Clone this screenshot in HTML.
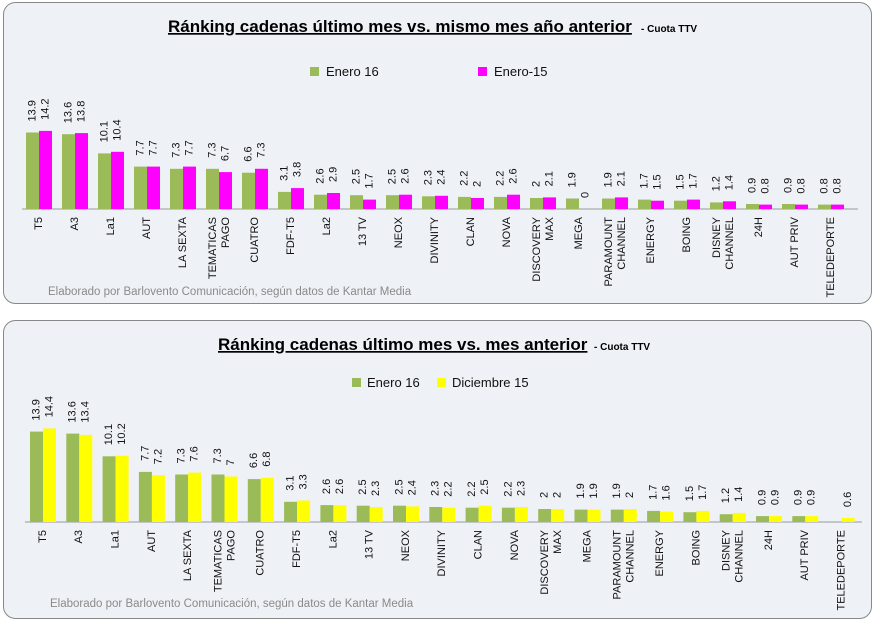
<!DOCTYPE html>
<html><head><meta charset="utf-8"><style>
body{margin:0;background:#fff;width:876px;height:623px;overflow:hidden}
svg{display:block;font-family:"Liberation Sans",sans-serif}
.v{font-size:11px;fill:#111}
.c{font-size:11px;fill:#111}
.t{font-size:17px;font-weight:bold;fill:#000;text-decoration:underline}
.f{font-size:11.5px;fill:#8a8a8a}
.l{font-size:13px;fill:#111}
</style></head><body>
<svg width="876" height="623" viewBox="0 0 876 623">
<rect x="3.5" y="2.5" width="868" height="301" rx="12" fill="#eef1f6" stroke="#888"/>
<rect x="3.5" y="320.5" width="868" height="298" rx="12" fill="#eef1f6" stroke="#888"/>

<text x="168" y="32" class="t">Ránking cadenas último mes vs. mismo mes año anterior</text>
<text x="641" y="32" style="font-size:10px;font-weight:bold">- Cuota TTV</text>
<rect x="310" y="67" width="9" height="9" fill="#9bbb59"/><text x="326" y="76" class="l">Enero 16</text>
<rect x="478" y="67" width="9" height="9" fill="#ff00ff"/><text x="494" y="76" class="l">Enero-15</text>
<text x="48" y="295" class="f">Elaborado por Barlovento Comunicación, según datos de Kantar Media</text>
<line x1="22" y1="209" x2="858" y2="209" stroke="#999"/>

<text x="218" y="350" class="t">Ránking cadenas último mes vs. mes anterior</text>
<text x="594" y="350" style="font-size:10px;font-weight:bold">- Cuota TTV</text>
<rect x="352" y="378" width="9" height="9" fill="#9bbb59"/><text x="367" y="387" class="l">Enero 16</text>
<rect x="437" y="378" width="9" height="9" fill="#ffff00"/><text x="452" y="387" class="l">Diciembre 15</text>
<text x="50" y="607" class="f">Elaborado por Barlovento Comunicación, según datos de Kantar Media</text>
<line x1="25" y1="522" x2="862" y2="522" stroke="#999"/>

<!-- chart 1 -->
<g transform="translate(0,209)">
<g transform="translate(39,0)"><rect x="-13" y="-76.5" width="13" height="76.5" fill="#9bbb59"/><rect x="0" y="-78.1" width="13" height="78.1" fill="#ff00ff"/><text class="v" dominant-baseline="middle" transform="translate(-6.5,-87.5) rotate(-90)">13.9</text><text class="v" dominant-baseline="middle" transform="translate(6.5,-89.1) rotate(-90)">14.2</text><text class="c" text-anchor="end" dominant-baseline="middle" transform="translate(0,8) rotate(-90)">T5</text></g>
<g transform="translate(75,0)"><rect x="-13" y="-74.8" width="13" height="74.8" fill="#9bbb59"/><rect x="0" y="-75.9" width="13" height="75.9" fill="#ff00ff"/><text class="v" dominant-baseline="middle" transform="translate(-6.5,-85.8) rotate(-90)">13.6</text><text class="v" dominant-baseline="middle" transform="translate(6.5,-86.9) rotate(-90)">13.8</text><text class="c" text-anchor="end" dominant-baseline="middle" transform="translate(0,8) rotate(-90)">A3</text></g>
<g transform="translate(111,0)"><rect x="-13" y="-55.6" width="13" height="55.6" fill="#9bbb59"/><rect x="0" y="-57.2" width="13" height="57.2" fill="#ff00ff"/><text class="v" dominant-baseline="middle" transform="translate(-6.5,-66.6) rotate(-90)">10.1</text><text class="v" dominant-baseline="middle" transform="translate(6.5,-68.2) rotate(-90)">10.4</text><text class="c" text-anchor="end" dominant-baseline="middle" transform="translate(0,8) rotate(-90)">La1</text></g>
<g transform="translate(147,0)"><rect x="-13" y="-42.4" width="13" height="42.4" fill="#9bbb59"/><rect x="0" y="-42.4" width="13" height="42.4" fill="#ff00ff"/><text class="v" dominant-baseline="middle" transform="translate(-6.5,-53.4) rotate(-90)">7.7</text><text class="v" dominant-baseline="middle" transform="translate(6.5,-53.4) rotate(-90)">7.7</text><text class="c" text-anchor="end" dominant-baseline="middle" transform="translate(0,8) rotate(-90)">AUT</text></g>
<g transform="translate(183,0)"><rect x="-13" y="-40.2" width="13" height="40.2" fill="#9bbb59"/><rect x="0" y="-42.4" width="13" height="42.4" fill="#ff00ff"/><text class="v" dominant-baseline="middle" transform="translate(-6.5,-51.2) rotate(-90)">7.3</text><text class="v" dominant-baseline="middle" transform="translate(6.5,-53.4) rotate(-90)">7.7</text><text class="c" text-anchor="end" dominant-baseline="middle" transform="translate(0,8) rotate(-90)">LA SEXTA</text></g>
<g transform="translate(219,0)"><rect x="-13" y="-40.2" width="13" height="40.2" fill="#9bbb59"/><rect x="0" y="-36.9" width="13" height="36.9" fill="#ff00ff"/><text class="v" dominant-baseline="middle" transform="translate(-6.5,-51.2) rotate(-90)">7.3</text><text class="v" dominant-baseline="middle" transform="translate(6.5,-47.9) rotate(-90)">6.7</text><text class="c" text-anchor="end" dominant-baseline="middle" transform="translate(-6,8) rotate(-90)">TEMATICAS</text><text class="c" text-anchor="end" dominant-baseline="middle" transform="translate(7,8) rotate(-90)">PAGO</text></g>
<g transform="translate(255,0)"><rect x="-13" y="-36.3" width="13" height="36.3" fill="#9bbb59"/><rect x="0" y="-40.2" width="13" height="40.2" fill="#ff00ff"/><text class="v" dominant-baseline="middle" transform="translate(-6.5,-47.3) rotate(-90)">6.6</text><text class="v" dominant-baseline="middle" transform="translate(6.5,-51.2) rotate(-90)">7.3</text><text class="c" text-anchor="end" dominant-baseline="middle" transform="translate(0,8) rotate(-90)">CUATRO</text></g>
<g transform="translate(291,0)"><rect x="-13" y="-17.1" width="13" height="17.1" fill="#9bbb59"/><rect x="0" y="-20.9" width="13" height="20.9" fill="#ff00ff"/><text class="v" dominant-baseline="middle" transform="translate(-6.5,-28.1) rotate(-90)">3.1</text><text class="v" dominant-baseline="middle" transform="translate(6.5,-31.9) rotate(-90)">3.8</text><text class="c" text-anchor="end" dominant-baseline="middle" transform="translate(0,8) rotate(-90)">FDF-T5</text></g>
<g transform="translate(327,0)"><rect x="-13" y="-14.3" width="13" height="14.3" fill="#9bbb59"/><rect x="0" y="-16" width="13" height="16" fill="#ff00ff"/><text class="v" dominant-baseline="middle" transform="translate(-6.5,-25.3) rotate(-90)">2.6</text><text class="v" dominant-baseline="middle" transform="translate(6.5,-27) rotate(-90)">2.9</text><text class="c" text-anchor="end" dominant-baseline="middle" transform="translate(0,8) rotate(-90)">La2</text></g>
<g transform="translate(363,0)"><rect x="-13" y="-13.8" width="13" height="13.8" fill="#9bbb59"/><rect x="0" y="-9.4" width="13" height="9.4" fill="#ff00ff"/><text class="v" dominant-baseline="middle" transform="translate(-6.5,-24.8) rotate(-90)">2.5</text><text class="v" dominant-baseline="middle" transform="translate(6.5,-20.4) rotate(-90)">1.7</text><text class="c" text-anchor="end" dominant-baseline="middle" transform="translate(0,8) rotate(-90)">13 TV</text></g>
<g transform="translate(399,0)"><rect x="-13" y="-13.8" width="13" height="13.8" fill="#9bbb59"/><rect x="0" y="-14.3" width="13" height="14.3" fill="#ff00ff"/><text class="v" dominant-baseline="middle" transform="translate(-6.5,-24.8) rotate(-90)">2.5</text><text class="v" dominant-baseline="middle" transform="translate(6.5,-25.3) rotate(-90)">2.6</text><text class="c" text-anchor="end" dominant-baseline="middle" transform="translate(0,8) rotate(-90)">NEOX</text></g>
<g transform="translate(435,0)"><rect x="-13" y="-12.7" width="13" height="12.7" fill="#9bbb59"/><rect x="0" y="-13.2" width="13" height="13.2" fill="#ff00ff"/><text class="v" dominant-baseline="middle" transform="translate(-6.5,-23.7) rotate(-90)">2.3</text><text class="v" dominant-baseline="middle" transform="translate(6.5,-24.2) rotate(-90)">2.4</text><text class="c" text-anchor="end" dominant-baseline="middle" transform="translate(0,8) rotate(-90)">DIVINITY</text></g>
<g transform="translate(471,0)"><rect x="-13" y="-12.1" width="13" height="12.1" fill="#9bbb59"/><rect x="0" y="-11" width="13" height="11" fill="#ff00ff"/><text class="v" dominant-baseline="middle" transform="translate(-6.5,-23.1) rotate(-90)">2.2</text><text class="v" dominant-baseline="middle" transform="translate(6.5,-22) rotate(-90)">2</text><text class="c" text-anchor="end" dominant-baseline="middle" transform="translate(0,8) rotate(-90)">CLAN</text></g>
<g transform="translate(507,0)"><rect x="-13" y="-12.1" width="13" height="12.1" fill="#9bbb59"/><rect x="0" y="-14.3" width="13" height="14.3" fill="#ff00ff"/><text class="v" dominant-baseline="middle" transform="translate(-6.5,-23.1) rotate(-90)">2.2</text><text class="v" dominant-baseline="middle" transform="translate(6.5,-25.3) rotate(-90)">2.6</text><text class="c" text-anchor="end" dominant-baseline="middle" transform="translate(0,8) rotate(-90)">NOVA</text></g>
<g transform="translate(543,0)"><rect x="-13" y="-11" width="13" height="11" fill="#9bbb59"/><rect x="0" y="-11.6" width="13" height="11.6" fill="#ff00ff"/><text class="v" dominant-baseline="middle" transform="translate(-6.5,-22) rotate(-90)">2</text><text class="v" dominant-baseline="middle" transform="translate(6.5,-22.6) rotate(-90)">2.1</text><text class="c" text-anchor="end" dominant-baseline="middle" transform="translate(-6,8) rotate(-90)">DISCOVERY</text><text class="c" text-anchor="end" dominant-baseline="middle" transform="translate(7,8) rotate(-90)">MAX</text></g>
<g transform="translate(579,0)"><rect x="-13" y="-10.5" width="13" height="10.5" fill="#9bbb59"/><text class="v" dominant-baseline="middle" transform="translate(-6.5,-21.5) rotate(-90)">1.9</text><text class="v" dominant-baseline="middle" transform="translate(6.5,-11) rotate(-90)">0</text><text class="c" text-anchor="end" dominant-baseline="middle" transform="translate(0,8) rotate(-90)">MEGA</text></g>
<g transform="translate(615,0)"><rect x="-13" y="-10.5" width="13" height="10.5" fill="#9bbb59"/><rect x="0" y="-11.6" width="13" height="11.6" fill="#ff00ff"/><text class="v" dominant-baseline="middle" transform="translate(-6.5,-21.5) rotate(-90)">1.9</text><text class="v" dominant-baseline="middle" transform="translate(6.5,-22.6) rotate(-90)">2.1</text><text class="c" text-anchor="end" dominant-baseline="middle" transform="translate(-6,8) rotate(-90)">PARAMOUNT</text><text class="c" text-anchor="end" dominant-baseline="middle" transform="translate(7,8) rotate(-90)">CHANNEL</text></g>
<g transform="translate(651,0)"><rect x="-13" y="-9.4" width="13" height="9.4" fill="#9bbb59"/><rect x="0" y="-8.3" width="13" height="8.3" fill="#ff00ff"/><text class="v" dominant-baseline="middle" transform="translate(-6.5,-20.4) rotate(-90)">1.7</text><text class="v" dominant-baseline="middle" transform="translate(6.5,-19.3) rotate(-90)">1.5</text><text class="c" text-anchor="end" dominant-baseline="middle" transform="translate(0,8) rotate(-90)">ENERGY</text></g>
<g transform="translate(687,0)"><rect x="-13" y="-8.3" width="13" height="8.3" fill="#9bbb59"/><rect x="0" y="-9.4" width="13" height="9.4" fill="#ff00ff"/><text class="v" dominant-baseline="middle" transform="translate(-6.5,-19.3) rotate(-90)">1.5</text><text class="v" dominant-baseline="middle" transform="translate(6.5,-20.4) rotate(-90)">1.7</text><text class="c" text-anchor="end" dominant-baseline="middle" transform="translate(0,8) rotate(-90)">BOING</text></g>
<g transform="translate(723,0)"><rect x="-13" y="-6.6" width="13" height="6.6" fill="#9bbb59"/><rect x="0" y="-7.7" width="13" height="7.7" fill="#ff00ff"/><text class="v" dominant-baseline="middle" transform="translate(-6.5,-17.6) rotate(-90)">1.2</text><text class="v" dominant-baseline="middle" transform="translate(6.5,-18.7) rotate(-90)">1.4</text><text class="c" text-anchor="end" dominant-baseline="middle" transform="translate(-6,8) rotate(-90)">DISNEY</text><text class="c" text-anchor="end" dominant-baseline="middle" transform="translate(7,8) rotate(-90)">CHANNEL</text></g>
<g transform="translate(759,0)"><rect x="-13" y="-5" width="13" height="5" fill="#9bbb59"/><rect x="0" y="-4.4" width="13" height="4.4" fill="#ff00ff"/><text class="v" dominant-baseline="middle" transform="translate(-6.5,-16) rotate(-90)">0.9</text><text class="v" dominant-baseline="middle" transform="translate(6.5,-15.4) rotate(-90)">0.8</text><text class="c" text-anchor="end" dominant-baseline="middle" transform="translate(0,8) rotate(-90)">24H</text></g>
<g transform="translate(795,0)"><rect x="-13" y="-5" width="13" height="5" fill="#9bbb59"/><rect x="0" y="-4.4" width="13" height="4.4" fill="#ff00ff"/><text class="v" dominant-baseline="middle" transform="translate(-6.5,-16) rotate(-90)">0.9</text><text class="v" dominant-baseline="middle" transform="translate(6.5,-15.4) rotate(-90)">0.8</text><text class="c" text-anchor="end" dominant-baseline="middle" transform="translate(0,8) rotate(-90)">AUT PRIV</text></g>
<g transform="translate(831,0)"><rect x="-13" y="-4.4" width="13" height="4.4" fill="#9bbb59"/><rect x="0" y="-4.4" width="13" height="4.4" fill="#ff00ff"/><text class="v" dominant-baseline="middle" transform="translate(-6.5,-15.4) rotate(-90)">0.8</text><text class="v" dominant-baseline="middle" transform="translate(6.5,-15.4) rotate(-90)">0.8</text><text class="c" text-anchor="end" dominant-baseline="middle" transform="translate(0,8) rotate(-90)">TELEDEPORTE</text></g>
</g>

<!-- chart 2 -->
<g transform="translate(0,522)">
<g transform="translate(43,0)"><rect x="-13" y="-90.4" width="13" height="90.4" fill="#9bbb59"/><rect x="0" y="-93.6" width="13" height="93.6" fill="#ffff00"/><text class="v" dominant-baseline="middle" transform="translate(-6.5,-101.4) rotate(-90)">13.9</text><text class="v" dominant-baseline="middle" transform="translate(6.5,-104.6) rotate(-90)">14.4</text><text class="c" text-anchor="end" dominant-baseline="middle" transform="translate(0,8) rotate(-90)">T5</text></g>
<g transform="translate(79.3,0)"><rect x="-13" y="-88.4" width="13" height="88.4" fill="#9bbb59"/><rect x="0" y="-87.1" width="13" height="87.1" fill="#ffff00"/><text class="v" dominant-baseline="middle" transform="translate(-6.5,-99.4) rotate(-90)">13.6</text><text class="v" dominant-baseline="middle" transform="translate(6.5,-99.4) rotate(-90)">13.4</text><text class="c" text-anchor="end" dominant-baseline="middle" transform="translate(0,8) rotate(-90)">A3</text></g>
<g transform="translate(115.6,0)"><rect x="-13" y="-65.7" width="13" height="65.7" fill="#9bbb59"/><rect x="0" y="-66.3" width="13" height="66.3" fill="#ffff00"/><text class="v" dominant-baseline="middle" transform="translate(-6.5,-76.7) rotate(-90)">10.1</text><text class="v" dominant-baseline="middle" transform="translate(6.5,-77.3) rotate(-90)">10.2</text><text class="c" text-anchor="end" dominant-baseline="middle" transform="translate(0,8) rotate(-90)">La1</text></g>
<g transform="translate(151.9,0)"><rect x="-13" y="-50.1" width="13" height="50.1" fill="#9bbb59"/><rect x="0" y="-46.8" width="13" height="46.8" fill="#ffff00"/><text class="v" dominant-baseline="middle" transform="translate(-6.5,-61.1) rotate(-90)">7.7</text><text class="v" dominant-baseline="middle" transform="translate(6.5,-57.8) rotate(-90)">7.2</text><text class="c" text-anchor="end" dominant-baseline="middle" transform="translate(0,8) rotate(-90)">AUT</text></g>
<g transform="translate(188.2,0)"><rect x="-13" y="-47.5" width="13" height="47.5" fill="#9bbb59"/><rect x="0" y="-49.4" width="13" height="49.4" fill="#ffff00"/><text class="v" dominant-baseline="middle" transform="translate(-6.5,-58.5) rotate(-90)">7.3</text><text class="v" dominant-baseline="middle" transform="translate(6.5,-60.4) rotate(-90)">7.6</text><text class="c" text-anchor="end" dominant-baseline="middle" transform="translate(0,8) rotate(-90)">LA SEXTA</text></g>
<g transform="translate(224.5,0)"><rect x="-13" y="-47.5" width="13" height="47.5" fill="#9bbb59"/><rect x="0" y="-45.5" width="13" height="45.5" fill="#ffff00"/><text class="v" dominant-baseline="middle" transform="translate(-6.5,-58.5) rotate(-90)">7.3</text><text class="v" dominant-baseline="middle" transform="translate(6.5,-56.5) rotate(-90)">7</text><text class="c" text-anchor="end" dominant-baseline="middle" transform="translate(-6,8) rotate(-90)">TEMATICAS</text><text class="c" text-anchor="end" dominant-baseline="middle" transform="translate(7,8) rotate(-90)">PAGO</text></g>
<g transform="translate(260.8,0)"><rect x="-13" y="-42.9" width="13" height="42.9" fill="#9bbb59"/><rect x="0" y="-44.2" width="13" height="44.2" fill="#ffff00"/><text class="v" dominant-baseline="middle" transform="translate(-6.5,-53.9) rotate(-90)">6.6</text><text class="v" dominant-baseline="middle" transform="translate(6.5,-55.2) rotate(-90)">6.8</text><text class="c" text-anchor="end" dominant-baseline="middle" transform="translate(0,8) rotate(-90)">CUATRO</text></g>
<g transform="translate(297.1,0)"><rect x="-13" y="-20.2" width="13" height="20.2" fill="#9bbb59"/><rect x="0" y="-21.5" width="13" height="21.5" fill="#ffff00"/><text class="v" dominant-baseline="middle" transform="translate(-6.5,-31.2) rotate(-90)">3.1</text><text class="v" dominant-baseline="middle" transform="translate(6.5,-32.5) rotate(-90)">3.3</text><text class="c" text-anchor="end" dominant-baseline="middle" transform="translate(0,8) rotate(-90)">FDF-T5</text></g>
<g transform="translate(333.4,0)"><rect x="-13" y="-16.9" width="13" height="16.9" fill="#9bbb59"/><rect x="0" y="-16.9" width="13" height="16.9" fill="#ffff00"/><text class="v" dominant-baseline="middle" transform="translate(-6.5,-27.9) rotate(-90)">2.6</text><text class="v" dominant-baseline="middle" transform="translate(6.5,-27.9) rotate(-90)">2.6</text><text class="c" text-anchor="end" dominant-baseline="middle" transform="translate(0,8) rotate(-90)">La2</text></g>
<g transform="translate(369.7,0)"><rect x="-13" y="-16.3" width="13" height="16.3" fill="#9bbb59"/><rect x="0" y="-15" width="13" height="15" fill="#ffff00"/><text class="v" dominant-baseline="middle" transform="translate(-6.5,-27.3) rotate(-90)">2.5</text><text class="v" dominant-baseline="middle" transform="translate(6.5,-26) rotate(-90)">2.3</text><text class="c" text-anchor="end" dominant-baseline="middle" transform="translate(0,8) rotate(-90)">13 TV</text></g>
<g transform="translate(406,0)"><rect x="-13" y="-16.3" width="13" height="16.3" fill="#9bbb59"/><rect x="0" y="-15.6" width="13" height="15.6" fill="#ffff00"/><text class="v" dominant-baseline="middle" transform="translate(-6.5,-27.3) rotate(-90)">2.5</text><text class="v" dominant-baseline="middle" transform="translate(6.5,-26.6) rotate(-90)">2.4</text><text class="c" text-anchor="end" dominant-baseline="middle" transform="translate(0,8) rotate(-90)">NEOX</text></g>
<g transform="translate(442.3,0)"><rect x="-13" y="-15" width="13" height="15" fill="#9bbb59"/><rect x="0" y="-14.3" width="13" height="14.3" fill="#ffff00"/><text class="v" dominant-baseline="middle" transform="translate(-6.5,-26) rotate(-90)">2.3</text><text class="v" dominant-baseline="middle" transform="translate(6.5,-25.3) rotate(-90)">2.2</text><text class="c" text-anchor="end" dominant-baseline="middle" transform="translate(0,8) rotate(-90)">DIVINITY</text></g>
<g transform="translate(478.6,0)"><rect x="-13" y="-14.3" width="13" height="14.3" fill="#9bbb59"/><rect x="0" y="-16.3" width="13" height="16.3" fill="#ffff00"/><text class="v" dominant-baseline="middle" transform="translate(-6.5,-25.3) rotate(-90)">2.2</text><text class="v" dominant-baseline="middle" transform="translate(6.5,-27.3) rotate(-90)">2.5</text><text class="c" text-anchor="end" dominant-baseline="middle" transform="translate(0,8) rotate(-90)">CLAN</text></g>
<g transform="translate(514.9,0)"><rect x="-13" y="-14.3" width="13" height="14.3" fill="#9bbb59"/><rect x="0" y="-15" width="13" height="15" fill="#ffff00"/><text class="v" dominant-baseline="middle" transform="translate(-6.5,-25.3) rotate(-90)">2.2</text><text class="v" dominant-baseline="middle" transform="translate(6.5,-26) rotate(-90)">2.3</text><text class="c" text-anchor="end" dominant-baseline="middle" transform="translate(0,8) rotate(-90)">NOVA</text></g>
<g transform="translate(551.2,0)"><rect x="-13" y="-13" width="13" height="13" fill="#9bbb59"/><rect x="0" y="-13" width="13" height="13" fill="#ffff00"/><text class="v" dominant-baseline="middle" transform="translate(-6.5,-24) rotate(-90)">2</text><text class="v" dominant-baseline="middle" transform="translate(6.5,-24) rotate(-90)">2</text><text class="c" text-anchor="end" dominant-baseline="middle" transform="translate(-6,8) rotate(-90)">DISCOVERY</text><text class="c" text-anchor="end" dominant-baseline="middle" transform="translate(7,8) rotate(-90)">MAX</text></g>
<g transform="translate(587.5,0)"><rect x="-13" y="-12.4" width="13" height="12.4" fill="#9bbb59"/><rect x="0" y="-12.4" width="13" height="12.4" fill="#ffff00"/><text class="v" dominant-baseline="middle" transform="translate(-6.5,-23.4) rotate(-90)">1.9</text><text class="v" dominant-baseline="middle" transform="translate(6.5,-23.4) rotate(-90)">1.9</text><text class="c" text-anchor="end" dominant-baseline="middle" transform="translate(0,8) rotate(-90)">MEGA</text></g>
<g transform="translate(623.8,0)"><rect x="-13" y="-12.4" width="13" height="12.4" fill="#9bbb59"/><rect x="0" y="-13" width="13" height="13" fill="#ffff00"/><text class="v" dominant-baseline="middle" transform="translate(-6.5,-23.4) rotate(-90)">1.9</text><text class="v" dominant-baseline="middle" transform="translate(6.5,-24) rotate(-90)">2</text><text class="c" text-anchor="end" dominant-baseline="middle" transform="translate(-6,8) rotate(-90)">PARAMOUNT</text><text class="c" text-anchor="end" dominant-baseline="middle" transform="translate(7,8) rotate(-90)">CHANNEL</text></g>
<g transform="translate(660.1,0)"><rect x="-13" y="-11.1" width="13" height="11.1" fill="#9bbb59"/><rect x="0" y="-10.4" width="13" height="10.4" fill="#ffff00"/><text class="v" dominant-baseline="middle" transform="translate(-6.5,-22.1) rotate(-90)">1.7</text><text class="v" dominant-baseline="middle" transform="translate(6.5,-21.4) rotate(-90)">1.6</text><text class="c" text-anchor="end" dominant-baseline="middle" transform="translate(0,8) rotate(-90)">ENERGY</text></g>
<g transform="translate(696.4,0)"><rect x="-13" y="-9.8" width="13" height="9.8" fill="#9bbb59"/><rect x="0" y="-11.1" width="13" height="11.1" fill="#ffff00"/><text class="v" dominant-baseline="middle" transform="translate(-6.5,-20.8) rotate(-90)">1.5</text><text class="v" dominant-baseline="middle" transform="translate(6.5,-22.1) rotate(-90)">1.7</text><text class="c" text-anchor="end" dominant-baseline="middle" transform="translate(0,8) rotate(-90)">BOING</text></g>
<g transform="translate(732.7,0)"><rect x="-13" y="-7.8" width="13" height="7.8" fill="#9bbb59"/><rect x="0" y="-9.1" width="13" height="9.1" fill="#ffff00"/><text class="v" dominant-baseline="middle" transform="translate(-6.5,-18.8) rotate(-90)">1.2</text><text class="v" dominant-baseline="middle" transform="translate(6.5,-20.1) rotate(-90)">1.4</text><text class="c" text-anchor="end" dominant-baseline="middle" transform="translate(-6,8) rotate(-90)">DISNEY</text><text class="c" text-anchor="end" dominant-baseline="middle" transform="translate(7,8) rotate(-90)">CHANNEL</text></g>
<g transform="translate(769,0)"><rect x="-13" y="-5.9" width="13" height="5.9" fill="#9bbb59"/><rect x="0" y="-5.9" width="13" height="5.9" fill="#ffff00"/><text class="v" dominant-baseline="middle" transform="translate(-6.5,-16.9) rotate(-90)">0.9</text><text class="v" dominant-baseline="middle" transform="translate(6.5,-16.9) rotate(-90)">0.9</text><text class="c" text-anchor="end" dominant-baseline="middle" transform="translate(0,8) rotate(-90)">24H</text></g>
<g transform="translate(805.3,0)"><rect x="-13" y="-5.9" width="13" height="5.9" fill="#9bbb59"/><rect x="0" y="-5.9" width="13" height="5.9" fill="#ffff00"/><text class="v" dominant-baseline="middle" transform="translate(-6.5,-16.9) rotate(-90)">0.9</text><text class="v" dominant-baseline="middle" transform="translate(6.5,-16.9) rotate(-90)">0.9</text><text class="c" text-anchor="end" dominant-baseline="middle" transform="translate(0,8) rotate(-90)">AUT PRIV</text></g>
<g transform="translate(841.6,0)"><rect x="0" y="-3.9" width="13" height="3.9" fill="#ffff00"/><text class="v" dominant-baseline="middle" transform="translate(6.5,-14.9) rotate(-90)">0.6</text><text class="c" text-anchor="end" dominant-baseline="middle" transform="translate(0,8) rotate(-90)">TELEDEPORTE</text></g>
</g>
</svg>
</body></html>
